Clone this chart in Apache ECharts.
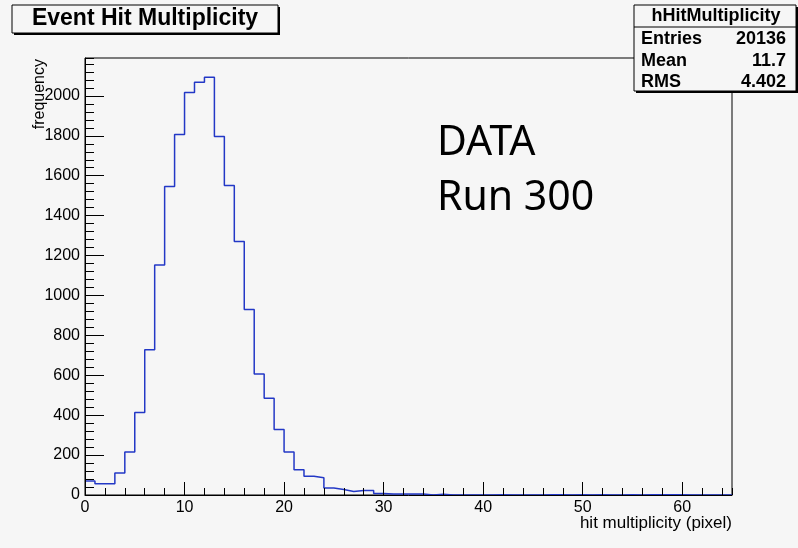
<!DOCTYPE html>
<html>
<head>
<meta charset="utf-8">
<script src="https://cdn.jsdelivr.net/npm/echarts@6/dist/echarts.min.js"></script>
<style>
html, body { margin: 0; padding: 0; background: #f6f6f6; }
#hist { width: 798px; height: 548px; }
</style>
</head>
<body>
<div id="hist"></div>
<script>
// hHitMultiplicity, 65 bins of width 1 from 0
var binLow = 0;
var binWidth = 1;
var counts = [
    70, 57, 57, 110, 216, 414, 728, 1153, 1546, 1806,
    2017, 2069, 2093, 1796, 1551, 1270, 929, 607, 485, 328,
    215, 127, 94, 87, 35, 28, 18, 23, 23, 7,
    5, 5, 5, 5, 0, 4, 0, 0, 0, 0,
    0, 1, 0, 0, 0, 0, 1, 1, 0, 1,
    0, 1, 0, 0, 1, 0, 1, 1, 1, 1,
    0, 0, 0, 0, 0
];
var statLabels = ['Entries', 'Mean', 'RMS'];
var statValues = ['20136', '11.7', '4.402'];

var chart = echarts.init(document.getElementById('hist'));

// step outline: one point per bin low edge, plus the last upper edge
var steps = counts.map(function (c, i) { return [binLow + i * binWidth, c]; });
steps.push([binLow + counts.length * binWidth, counts[counts.length - 1]]);

var font = 'Liberation Sans, Arial, sans-serif';
var bg = '#f6f6f6';
var plain = function (v) { return String(v); };

var option = {
    animation: false,
    backgroundColor: bg,
    grid: {
        left: 85, right: 66, top: 58, bottom: 53,
        show: true,
        backgroundColor: bg,
        borderColor: '#000',
        borderWidth: 1
    },
    xAxis: [
        {
            type: 'value',
            min: 0, max: 65, interval: 10,
            z: 10,
            axisLine: { show: true, onZero: false, lineStyle: { color: '#000', width: 1 } },
            axisTick: { inside: true, length: 13, lineStyle: { color: '#000' } },
            axisLabel: { color: '#000', fontFamily: font, fontSize: 16, margin: 5, showMaxLabel: false, formatter: plain },
            splitLine: { show: false }
        },
        {
            // minor ticks every 2
            type: 'value', position: 'bottom',
            min: 0, max: 65, interval: 2,
            z: 10,
            axisLine: { show: false },
            axisTick: { inside: true, length: 7, lineStyle: { color: '#000' } },
            axisLabel: { show: false },
            splitLine: { show: false }
        }
    ],
    yAxis: [
        {
            type: 'value',
            min: 0, max: 2190, interval: 200,
            z: 10,
            axisLine: { show: true, lineStyle: { color: '#000', width: 1 } },
            axisTick: { inside: true, length: 19, lineStyle: { color: '#000' } },
            axisLabel: { color: '#000', fontFamily: font, fontSize: 16, margin: 5, showMaxLabel: false, formatter: plain },
            splitLine: { show: false }
        },
        {
            // minor ticks every 40
            type: 'value', position: 'left',
            min: 0, max: 2190, interval: 40,
            z: 10,
            axisLine: { show: false },
            axisTick: { inside: true, length: 9, lineStyle: { color: '#000' } },
            axisLabel: { show: false },
            splitLine: { show: false }
        }
    ],
    series: [{
        name: 'hHitMultiplicity',
        type: 'line',
        step: 'end',
        data: steps,
        symbol: 'none',
        z: 5,
        lineStyle: { color: '#2338c6', width: 1.5 }
    }],
    graphic: [
        // title pave with shadow
        { type: 'rect', z: 100, shape: { x: 14, y: 7, width: 266, height: 28 }, style: { fill: '#000' } },
        { type: 'rect', z: 101, shape: { x: 12, y: 5, width: 266, height: 28 },
          style: { fill: bg, stroke: '#000', lineWidth: 1 } },
        { type: 'text', z: 102, x: 145, y: 19,
          style: { text: 'Event Hit Multiplicity', fill: '#000', font: 'bold 23px ' + font,
                   textAlign: 'center', textVerticalAlign: 'middle' } },

        // stats box
        { type: 'rect', z: 100, shape: { x: 636, y: 7, width: 162, height: 86 }, style: { fill: '#000' } },
        { type: 'rect', z: 101, shape: { x: 634, y: 5, width: 162, height: 86 },
          style: { fill: bg, stroke: '#000', lineWidth: 1 } },
        { type: 'line', z: 102, shape: { x1: 634, y1: 27, x2: 796, y2: 27 }, style: { stroke: '#000', lineWidth: 1 } },
        { type: 'text', z: 102, x: 716, y: 16,
          style: { text: 'hHitMultiplicity', fill: '#000', font: 'bold 18px ' + font,
                   textAlign: 'center', textVerticalAlign: 'middle' } },
        { type: 'text', z: 102, x: 641, y: 39,
          style: { text: statLabels[0], fill: '#000', font: 'bold 18px ' + font, textAlign: 'left', textVerticalAlign: 'middle' } },
        { type: 'text', z: 102, x: 641, y: 61,
          style: { text: statLabels[1], fill: '#000', font: 'bold 18px ' + font, textAlign: 'left', textVerticalAlign: 'middle' } },
        { type: 'text', z: 102, x: 641, y: 82,
          style: { text: statLabels[2], fill: '#000', font: 'bold 18px ' + font, textAlign: 'left', textVerticalAlign: 'middle' } },
        { type: 'text', z: 102, x: 786, y: 39,
          style: { text: statValues[0], fill: '#000', font: 'bold 18px ' + font, textAlign: 'right', textVerticalAlign: 'middle' } },
        { type: 'text', z: 102, x: 786, y: 61,
          style: { text: statValues[1], fill: '#000', font: 'bold 18px ' + font, textAlign: 'right', textVerticalAlign: 'middle' } },
        { type: 'text', z: 102, x: 786, y: 82,
          style: { text: statValues[2], fill: '#000', font: 'bold 18px ' + font, textAlign: 'right', textVerticalAlign: 'middle' } },

        // axis titles
        { type: 'text', z: 102, x: 732, y: 523,
          style: { text: 'hit multiplicity (pixel)', fill: '#000', font: '17px ' + font,
                   textAlign: 'right', textVerticalAlign: 'middle' } },
        { type: 'text', z: 102, x: 40, y: 59, rotation: Math.PI / 2,
          style: { text: 'frequency', fill: '#000', font: '16px ' + font,
                   textAlign: 'right', textVerticalAlign: 'middle' } },

        // annotation
        { type: 'text', z: 102, x: 437, y: 143,
          style: { text: 'DATA', fill: '#000', font: '41px Noto Sans, sans-serif',
                   textAlign: 'left', textVerticalAlign: 'middle' } },
        { type: 'text', z: 102, x: 437, y: 198,
          style: { text: 'Run 300', fill: '#000', font: '41px Noto Sans, sans-serif',
                   textAlign: 'left', textVerticalAlign: 'middle' } }
    ]
};

chart.setOption(option);
</script>
</body>
</html>
